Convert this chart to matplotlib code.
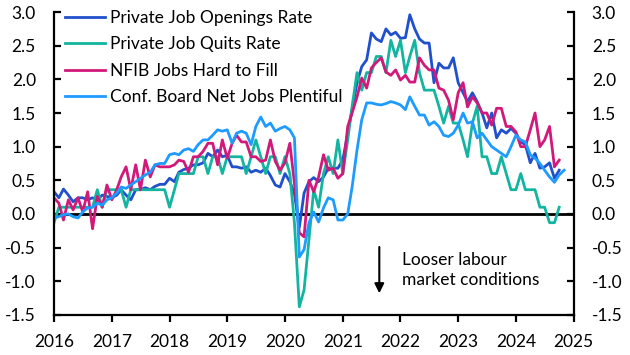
"""labour market tightness indicators (standardised)"""
import matplotlib
matplotlib.use('Agg')
import matplotlib.pyplot as plt
import matplotlib.dates as mdates
from matplotlib.ticker import FuncFormatter
import pandas as pd

plt.rcParams['font.family'] = ['Lato', 'DejaVu Sans']

# monthly values, Jan 2016 onwards
openings = [
    0.33, 0.24, 0.37, 0.28, 0.18, 0.24, 0.24, 0.21, 0.24, 0.21, 0.28, 0.26,
    0.24, 0.28, 0.36, 0.28, 0.21, 0.36, 0.36, 0.39, 0.36, 0.41, 0.44, 0.44,
    0.53, 0.48, 0.62, 0.66, 0.68, 0.73, 0.73, 0.76, 0.90, 0.85, 0.95, 0.85,
    0.87, 0.70, 0.70, 0.68, 0.70, 0.62, 0.65, 0.62, 0.68, 0.57, 0.43, 0.40,
    0.60, 0.48, 0.30, -0.20, 0.31, 0.48, 0.54, 0.48, 0.55, 0.68, 0.68, 0.68,
    0.80, 1.20, 1.55, 1.95, 2.19, 2.29, 2.69, 2.60, 2.56, 2.75, 2.66, 2.70,
    2.61, 2.62, 2.96, 2.75, 2.60, 2.54, 2.54, 1.95, 2.24, 2.17, 2.17, 2.32,
    1.95, 1.80, 1.67, 1.80, 1.67, 1.50, 1.28, 1.50, 1.13, 1.25, 1.20, 1.27,
    1.20, 1.07, 1.03, 0.76, 0.90, 0.68, 0.70, 0.76, 0.53, 0.65,
]
quits = [
    -0.13, 0.10, 0.10, 0.10, 0.10, 0.10, 0.10, 0.10, 0.10, 0.36, 0.10, 0.36,
    0.36, 0.36, 0.36, 0.10, 0.36, 0.36, 0.36, 0.36, 0.36, 0.36, 0.36, 0.36,
    0.10, 0.36, 0.60, 0.60, 0.60, 0.60, 0.85, 0.85, 0.60, 0.85, 0.85, 0.60,
    0.85, 0.85, 0.85, 0.85, 0.60, 0.85, 1.10, 0.85, 0.60, 0.85, 0.85, 0.60,
    0.85, 0.60, -0.13, -1.38, -1.13, -0.38, 0.36, 0.10, 0.60, 0.85, 0.60, 1.10,
    0.60, 1.10, 1.60, 2.10, 1.84, 2.10, 2.10, 2.34, 2.34, 2.10, 2.58, 2.34,
    2.58, 2.10, 2.34, 2.58, 2.10, 1.84, 1.84, 1.84, 1.60, 1.35, 1.60, 1.35,
    1.35, 1.10, 0.85, 1.35, 1.60, 0.85, 0.85, 0.60, 0.60, 0.85, 0.60, 0.36,
    0.36, 0.60, 0.36, 0.36, 0.36, 0.10, 0.10, -0.13, -0.13, 0.10,
]
nfib = [
    0.24, 0.16, -0.09, 0.21, 0.06, 0.24, 0.03, 0.33, -0.22, 0.26, 0.10, 0.43,
    0.21, 0.36, 0.55, 0.70, 0.36, 0.73, 0.36, 0.80, 0.55, 0.73, 0.70, 0.70,
    0.70, 0.73, 0.80, 0.78, 0.62, 0.85, 0.85, 0.93, 1.05, 1.05, 0.73, 1.10,
    0.83, 1.05, 1.17, 1.07, 1.07, 0.85, 0.85, 0.78, 0.80, 1.10, 0.78, 0.65,
    0.76, 1.05, 0.46, -0.28, -0.34, 0.50, 0.33, 0.55, 0.88, 0.65, 0.68, 0.53,
    0.60, 1.30, 1.50, 1.74, 2.02, 1.87, 2.17, 2.25, 2.32, 2.11, 2.06, 2.14,
    1.99, 2.06, 1.96, 1.96, 2.32, 2.21, 2.14, 2.14, 1.87, 1.84, 1.69, 1.40,
    1.80, 1.95, 1.59, 1.74, 1.65, 1.50, 1.50, 1.32, 1.57, 1.57, 1.30, 1.30,
    1.22, 1.00, 1.00, 1.25, 1.50, 1.00, 1.10, 1.30, 0.70, 0.80,
]
conf_board = [
    -0.06, -0.04, -0.01, 0.00, -0.04, -0.06, 0.03, 0.09, 0.10, 0.16, 0.13, 0.21,
    0.24, 0.31, 0.40, 0.38, 0.43, 0.48, 0.53, 0.58, 0.62, 0.73, 0.75, 0.75,
    0.88, 0.90, 0.88, 0.95, 0.97, 0.93, 1.03, 1.10, 1.10, 1.17, 1.25, 1.23,
    1.25, 1.05, 1.20, 1.23, 1.20, 1.03, 1.30, 1.44, 1.30, 1.35, 1.23, 1.27,
    1.30, 1.25, 1.13, -0.64, -0.53, -0.13, 0.03, -0.12, 0.09, 0.24, 0.21, -0.09,
    -0.09, 0.00, 0.40, 0.95, 1.40, 1.65, 1.65, 1.63, 1.62, 1.64, 1.67, 1.65,
    1.62, 1.55, 1.74, 1.60, 1.47, 1.47, 1.32, 1.37, 1.30, 1.17, 1.15, 1.20,
    1.32, 1.50, 1.35, 1.37, 1.13, 1.20, 1.10, 1.00, 0.95, 0.90, 0.85, 1.00,
    1.17, 1.10, 1.07, 0.88, 0.83, 0.75, 0.65, 0.55, 0.47, 0.58, 0.65,
]

series = [
    ('Private Job Openings Rate', openings, '#2050cc'),
    ('Private Job Quits Rate', quits, '#13b5a0'),
    ('NFIB Jobs Hard to Fill', nfib, '#d2197a'),
    ('Conf. Board Net Jobs Plentiful', conf_board, '#1e9bff'),
]

fig = plt.figure(figsize=(6.3, 3.55), dpi=100)
ax = fig.add_axes([0.0857, 0.113, 0.825, 0.853])

for label, vals, colour in series:
    dates = pd.date_range('2016-01-01', periods=len(vals), freq='MS')
    ax.plot(dates, vals, color=colour, lw=2, label=label)

ax.axhline(0, color='black', lw=2, zorder=1)

ax.set_xlim(pd.Timestamp('2016-01-01'), pd.Timestamp('2025-01-01'))
ax.set_ylim(-1.5, 3.0)
ax.set_yticks([-1.5, -1.0, -0.5, 0.0, 0.5, 1.0, 1.5, 2.0, 2.5, 3.0])
ax.yaxis.set_major_formatter(FuncFormatter(lambda v, p: '%.1f' % v))
ax.xaxis.set_major_locator(mdates.YearLocator())
ax.xaxis.set_major_formatter(mdates.DateFormatter('%Y'))

ax.spines['top'].set_visible(False)
for s in ['left', 'right', 'bottom']:
    ax.spines[s].set_linewidth(1.6)
ax.tick_params(axis='y', direction='in', length=5, width=1.6, pad=13,
               left=True, right=True, labelleft=True, labelright=True,
               labelsize=12.5)
ax.tick_params(axis='x', direction='out', length=5, width=1.6, pad=9,
               labelsize=12.5)

# arrow + note
ax.annotate('', xy=(pd.Timestamp('2021-08-20'), -1.22),
            xytext=(pd.Timestamp('2021-08-20'), -0.45),
            arrowprops=dict(arrowstyle='-|>', color='black', lw=1.5,
                            mutation_scale=14))
ax.text(pd.Timestamp('2022-01-10'), -0.83, 'Looser labour\nmarket conditions',
        fontsize=12.5, va='center', ha='left', linespacing=1.35)

ax.legend(loc='upper left', frameon=False, fontsize=12.5, handlelength=2.3,
          handletextpad=0.3, labelspacing=0.6, borderaxespad=0.0,
          bbox_to_anchor=(0.008, 1.03))

fig.savefig('out.png', dpi=100)
